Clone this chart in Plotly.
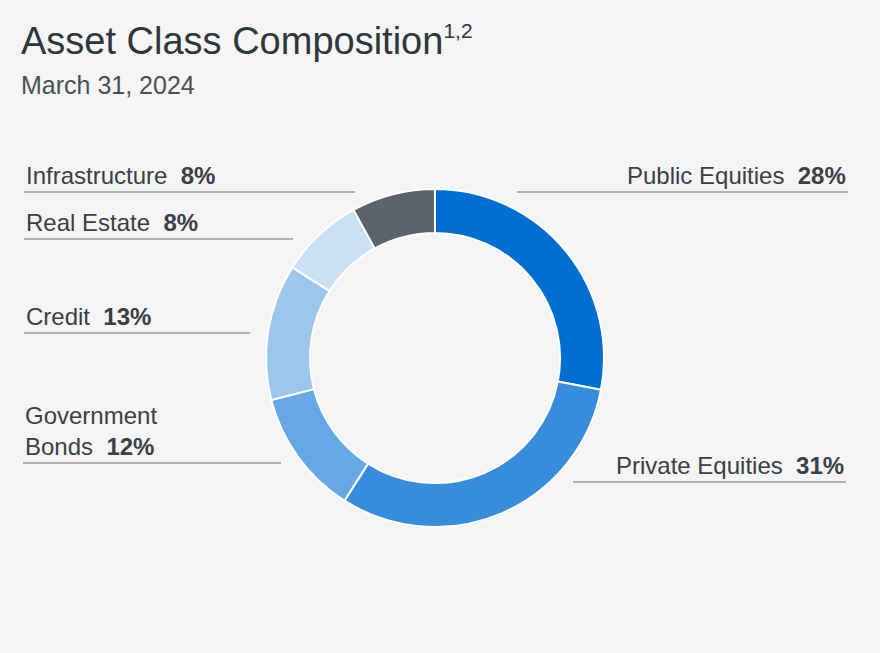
import plotly.graph_objects as go

W, H = 880, 653

labels = ["Public Equities", "Private Equities", "Government<br>Bonds", "Credit", "Real Estate", "Infrastructure"]
values = [28, 31, 12, 13, 8, 8]
colors = ["#006dd0", "#378cdb", "#66a8e3", "#9cc6ec", "#c9e0f5", "#5b636d"]

# label placement (pixels): line y, line x0, line x1, side
label_pos = [
    (192, 517, 848, "right"),
    (482, 573, 846, "right"),
    (463, 23, 281, "left"),
    (333, 24, 250, "left"),
    (239, 24, 293, "left"),
    (192, 24, 355, "left"),
]

def px(x):
    return x / W

def py(y):
    return 1 - y / H

cx, cy, r = 435, 358, 169
font = "Liberation Sans, Arial, sans-serif"

fig = go.Figure(go.Pie(
    labels=labels,
    values=values,
    marker=dict(colors=colors, line=dict(color="#ffffff", width=2)),
    hole=0.74,
    sort=False,
    direction="clockwise",
    rotation=0,
    textinfo="none",
    hoverinfo="label+percent",
    showlegend=False,
    domain=dict(x=[px(cx - r), px(cx + r)], y=[py(cy + r), py(cy - r)]),
))

txt = "#3a4046"
for lab, val, (ly, x0, x1, side) in zip(labels, values, label_pos):
    fig.add_shape(type="line", xref="paper", yref="paper",
                  x0=px(x0), x1=px(x1), y0=py(ly), y1=py(ly),
                  line=dict(color="#6b7075", width=1.2))
    fig.add_annotation(
        xref="paper", yref="paper",
        x=px(x1) if side == "right" else px(x0),
        y=py(ly - 1),
        xanchor=side, yanchor="bottom", align=side,
        text=f"{lab}  <b>{val}%</b>",
        showarrow=False,
        font=dict(family=font, size=24, color=txt),
    )

fig.add_annotation(
    xref="paper", yref="paper", x=px(19), y=py(17), xanchor="left", yanchor="top",
    text="Asset Class Composition<sup><span style='font-size:21px'>1,2</span></sup>",
    showarrow=False,
    font=dict(family=font, size=38, color="#2f363c"),
)
fig.add_annotation(
    xref="paper", yref="paper", x=px(19), y=py(69), xanchor="left", yanchor="top",
    text="March 31, 2024", showarrow=False,
    font=dict(family=font, size=25, color="#4a5055"),
)

fig.update_layout(
    width=W, height=H,
    margin=dict(l=0, r=0, t=0, b=0),
    paper_bgcolor="#f5f5f5",
    plot_bgcolor="#f5f5f5",
)

fig.write_html("out.html", config={"displayModeBar": False},
               post_script="document.body.style.margin='0';")
